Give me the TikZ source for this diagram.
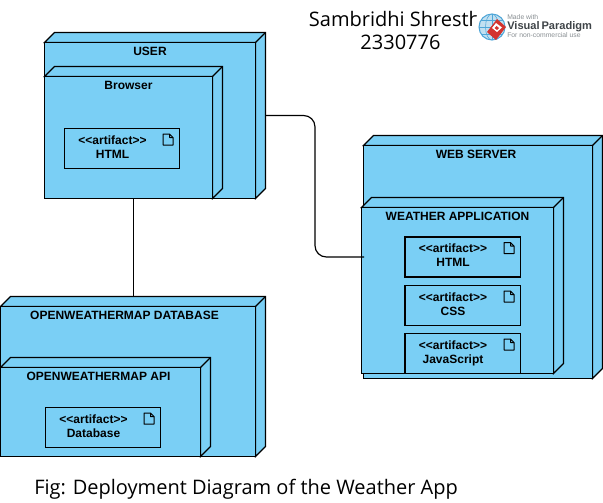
\documentclass[tikz,border=0pt]{standalone}
\usepackage{fontspec}
\setmainfont{Open Sans}
\newfontfamily\lblfont{Liberation Sans}[BoldFont={Liberation Sans Bold}]
\definecolor{nodeblue}{HTML}{7ACFF5}
\definecolor{vpgrey}{HTML}{3F4448}
\definecolor{vplight}{HTML}{8A9094}
\definecolor{vpred}{HTML}{D3342F}
\definecolor{vpglobe}{HTML}{4FA6D8}
\tikzset{
  x=0.75pt,y=-0.75pt,
  line/.style={draw=black,line width=0.9pt,line join=miter},
  facebox/.style={line,fill=nodeblue},
  lbl/.style={font=\lblfont\bfseries\fontsize{9}{10.3}\selectfont,text=black,inner sep=0pt,align=center},
  big/.style={font=\fontsize{15}{17.6}\selectfont,text=black,inner sep=0pt,align=center},
}
% cuboid: name, x1, y1, x2, y2 of the front face
\newcommand{\cuboid}[5]{%
  \path[facebox] (#2,#3) -- ++(10,-10) -- (#4+10,#3-10) -- (#4+10,#5-10) -- (#4,#5) -- (#4,#3) -- cycle;
  \draw[line] (#4,#3) -- (#4+10,#3-10);
  \path[facebox] (#2,#3) rectangle (#4,#5);
  \coordinate (#1) at ({(#2+#4)/2},{(#3+#5)/2});
}
% artifact: name, x1, y1, x2, y2, label
\newcommand{\artifact}[6]{%
  \path[facebox] (#2,#3) rectangle (#4,#5);
  \node[lbl,anchor=center] (#1) at (#2+48,#3+19.7) {<<artifact>>\\#6\vphantom{p}};
  \draw[line,line width=0.75pt,line join=round] (#4-16.5,#3+5.5) -- ++(0,11) -- ++(10,0) -- ++(0,-7.5) -- ++(-3.5,-3.5) -- cycle
     (#4-10,#3+5.5) -- ++(0,3.5) -- ++(3.5,0);
}
\begin{document}
\begin{tikzpicture}
\useasboundingbox (0,0) rectangle (603,503);
\fill[white] (0,0) rectangle (603,503);

\coordinate (userE) at (265.5,115.5);
\coordinate (dbTop) at (133.5,297);
\coordinate (userS) at (133.5,198);
\coordinate (appW) at (364,257);
\coordinate (bendA) at (315,115.5);
\coordinate (bendB) at (315,257);

% USER
\cuboid{user}{44.5}{42.5}{255.5}{198.5}
\node[lbl] (userL) at (150,51) {USER};
\cuboid{browser}{44.5}{76.5}{212.5}{198.5}
\node[lbl] (browserL) at (128.5,85.3) {Browser};
\artifact{a1}{64.5}{128.5}{179.5}{168.5}{HTML}

% WEB SERVER
\cuboid{web}{363.5}{145.5}{592.5}{378.5}
\node[lbl] (webL) at (476,154) {WEB SERVER};
\cuboid{app}{361.5}{207.5}{553.5}{373.5}
\node[lbl] (appL) at (457.5,216) {WEATHER APPLICATION};
\artifact{a2}{405}{237}{520.5}{277}{HTML}
\artifact{a3}{405}{285.5}{520.5}{325.5}{CSS}
\artifact{a4}{405}{333.5}{520.5}{373.5}{JavaScript}

% DATABASE
\cuboid{db}{0.5}{306.5}{255.5}{456.5}
\node[lbl] (dbL) at (124.5,315) {OPENWEATHERMAP DATABASE};
\cuboid{api}{0.5}{367.5}{200.5}{456.5}
\node[lbl] (apiL) at (98.5,376) {OPENWEATHERMAP API};
\artifact{a5}{45.5}{407.5}{160.5}{447.5}{Database}

% connectors
\draw[line] (userS) -- (dbTop);
\draw[line,rounded corners=8.5pt] (userE) -- (bendA) -- (bendB) -- (appW);

% titles
\node[big] (author) at (400.5,30.5) {Sambridhi Shrestha\\[-0.5pt]2330776};
\node[big,anchor=west] (caption) at (34,489.5) {Fig: Deployment Diagram of the Weather App};

% Visual Paradigm badge
\fill[white,rounded corners=14pt] (474,7) rectangle (598,46);
\fill[vpglobe!35] (492,27) circle[radius=13];
\draw[vpglobe,line width=0.8pt] (492,27) circle[radius=13];
\draw[vpglobe,line width=0.4pt] (492,14) -- (492,40) (479,27) -- (505,27)
   (481,20) -- (503,20) (481,34) -- (503,34);
\draw[vpglobe,line width=0.4pt] (492,27) ellipse[x radius=6.5,y radius=13];
\fill[vpred] (497,19) -- (506,27) -- (496,40) -- (487,32) -- cycle;
\fill[white] (496,23) -- (502,27.5) -- (497,32) -- (492,28) -- cycle;
\fill[vpred] (496.5,26) -- (499,28) -- (497,30) -- (494.5,28) -- cycle;
\node[anchor=west,inner sep=0pt,text=vplight,font=\lblfont\fontsize{5.1}{5.5}\selectfont] (vp1) at (507,17) {Made with};
\node[anchor=west,inner sep=0pt,text=vpgrey,font=\lblfont\bfseries\fontsize{8.3}{9}\selectfont] (vp2) at (507,26.3) {Visual\,Paradigm};
\node[anchor=west,inner sep=0pt,text=vplight,font=\lblfont\fontsize{5.1}{5.5}\selectfont] (vp3) at (507,35) {For non-commercial use};
\end{tikzpicture}
\end{document}
